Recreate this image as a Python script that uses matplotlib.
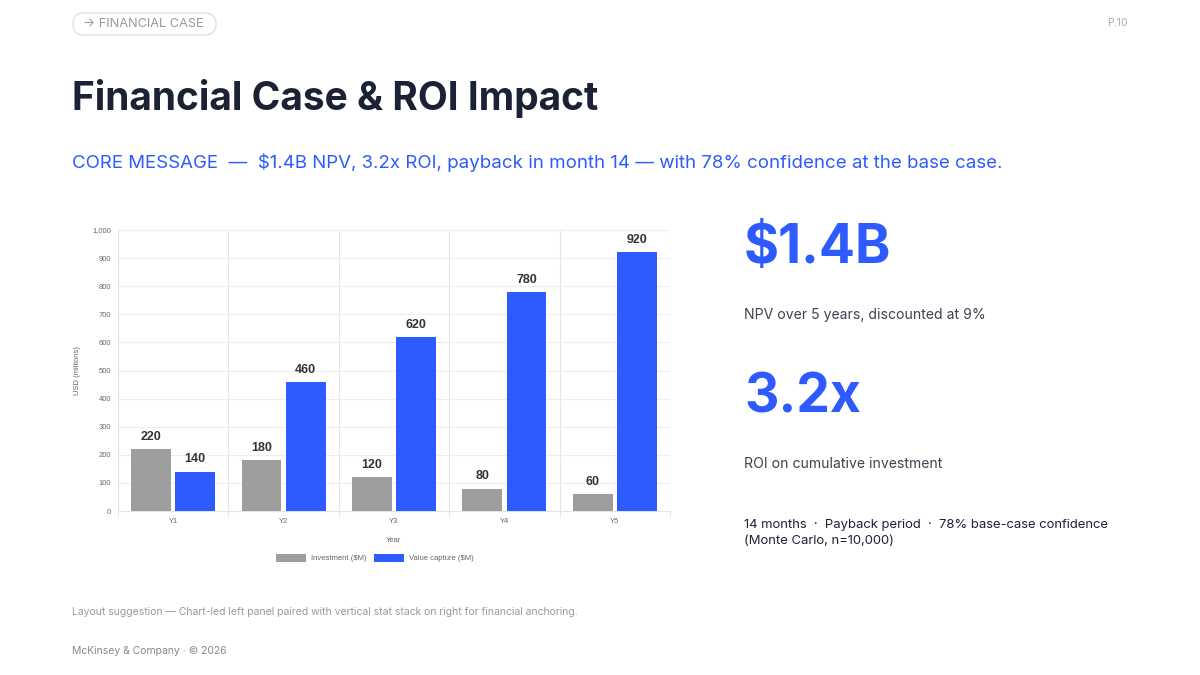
import matplotlib.pyplot as plt
import numpy as np
from matplotlib.patches import FancyBboxPatch

years = ["Y1", "Y2", "Y3", "Y4", "Y5"]
investment = [220, 180, 120, 80, 60]
value_capture = [140, 460, 620, 780, 920]
y_ticks = [0, 100, 200, 300, 400, 500, 600, 700, 800, 900, 1000]

BLUE = "#2d5bff"
GREY = "#9e9e9e"
NAVY = "#1c2236"
HEAD = "Inter"
CHART = "Liberation Sans"

fig = plt.figure(figsize=(12, 6.75), dpi=100)
fig.patch.set_facecolor("white")

# overlay in pixel coords for the header pill
bg = fig.add_axes([0, 0, 1, 1], zorder=-1)
bg.set_xlim(0, 1200)
bg.set_ylim(675, 0)
bg.axis("off")
bg.add_patch(FancyBboxPatch((73, 13), 143, 22, boxstyle="round,pad=0,rounding_size=11",
                            facecolor="white", edgecolor="#dddddd", linewidth=0.9))

fig.text(83 / 1200, 1 - 24 / 675, "→ FINANCIAL CASE", family=HEAD, fontsize=9.2,
         color="#999999", va="center", ha="left")
fig.text(1128 / 1200, 1 - 23 / 675, "P.10", family=HEAD, fontsize=7.5,
         color="#aaaaaa", va="center", ha="right")

fig.text(72 / 1200, 1 - 98 / 675, "Financial Case & ROI Impact", family=HEAD,
         fontsize=28, fontweight="bold", color=NAVY, va="center", ha="left")
fig.text(72 / 1200, 1 - 162 / 675,
         "CORE MESSAGE  —  $1.4B NPV, 3.2x ROI, payback in month 14 — with 78% confidence at the base case.",
         family=HEAD, fontsize=13.45, color=BLUE, va="center", ha="left")

# chart
ax = fig.add_axes([118 / 1200, 1 - 511 / 675, 552 / 1200, 281 / 675])
x = np.arange(len(years))
w = 0.36
b1 = ax.bar(x - 0.2, investment, w, color=GREY, zorder=3)
b2 = ax.bar(x + 0.2, value_capture, w, color=BLUE, zorder=3)
for bars in (b1, b2):
    for r in bars:
        ax.text(r.get_x() + r.get_width() / 2, r.get_height() + 22, f"{int(r.get_height())}",
                ha="center", va="bottom", family=CHART, fontsize=9, fontweight="bold",
                color="#333333")
ax.set_xlim(-0.5, len(years) - 0.5)
ax.set_ylim(0, 1000)
ax.set_yticks(y_ticks)
ax.set_yticklabels([f"{v:,}" for v in y_ticks], family=CHART, fontsize=5.5, color="#666666")
ax.set_xticks(x)
ax.set_xticklabels(years, family=CHART, fontsize=5.5, color="#666666")
ax.set_xticks(np.arange(-0.5, len(years)), minor=True)
ax.tick_params(axis="both", which="major", length=0, pad=5)
ax.tick_params(axis="x", which="minor", length=4, color="#e5e5e5")
ax.grid(axis="y", color="#eeeeee", linewidth=0.8, zorder=0)
ax.grid(axis="x", which="minor", color="#e5e5e5", linewidth=0.8, zorder=0)
for s in ax.spines.values():
    s.set_visible(False)
ax.spines["left"].set_visible(True)
ax.spines["left"].set_color("#e5e5e5")
ax.spines["bottom"].set_visible(True)
ax.spines["bottom"].set_color("#e5e5e5")
ax.set_xlabel("Year", family=CHART, fontsize=5.5, color="#666666", labelpad=9)
ax.set_ylabel("USD (millions)", family=CHART, fontsize=5.5, color="#666666", labelpad=8)
leg = ax.legend([b1, b2], ["Investment ($M)", "Value capture ($M)"], loc="upper center",
                bbox_to_anchor=(0.465, -0.128), ncol=2, frameon=False,
                prop={"family": CHART, "size": 5.5}, handlelength=4, handleheight=1.2,
                columnspacing=1.0, handletextpad=0.6)
for t in leg.get_texts():
    t.set_color("#666666")

# stat stack
fig.text(744 / 1200, 1 - 248 / 675, "$1.4B", family=HEAD, fontsize=38.5, fontweight="bold",
         color=BLUE, va="center", ha="left")
fig.text(744 / 1200, 1 - 315 / 675, "NPV over 5 years, discounted at 9%", family=HEAD,
         fontsize=10.1, color="#3d4250", va="center", ha="left")
fig.text(744 / 1200, 1 - 398 / 675, "3.2x", family=HEAD, fontsize=38.5, fontweight="bold",
         color=BLUE, va="center", ha="left")
fig.text(744 / 1200, 1 - 464 / 675, "ROI on cumulative investment", family=HEAD,
         fontsize=10.1, color="#3d4250", va="center", ha="left")
fig.text(744 / 1200, 1 - 533 / 675,
         "14 months  ·  Payback period  ·  78% base-case confidence\n(Monte Carlo, n=10,000)",
         family=HEAD, fontsize=9.4, color=NAVY, va="center", ha="left", linespacing=1.55)

fig.text(72 / 1200, 1 - 612 / 675,
         "Layout suggestion — Chart-led left panel paired with vertical stat stack on right for financial anchoring.",
         family=HEAD, fontsize=7.5, color="#999999", va="center", ha="left")
fig.text(72 / 1200, 1 - 651 / 675, "McKinsey & Company · © 2026", family=HEAD,
         fontsize=7.5, color="#888888", va="center", ha="left")

fig.savefig("out.png", dpi=100, facecolor="white")
